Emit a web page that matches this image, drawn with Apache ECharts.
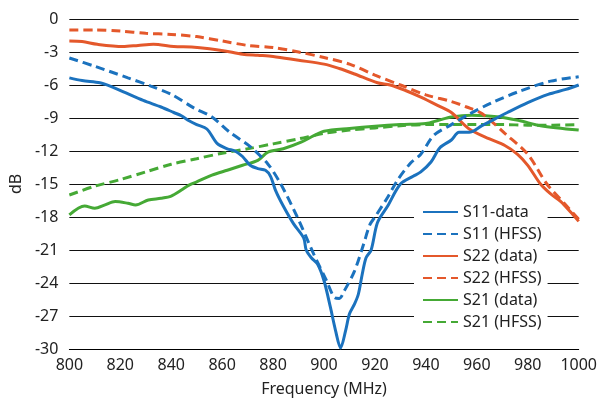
<!DOCTYPE html>
<html><head><meta charset="utf-8">
<script src="https://cdn.jsdelivr.net/npm/echarts@6/dist/echarts.min.js"></script>
<style>html,body{margin:0;padding:0;background:#fff}#c{width:600px;height:402px}</style>
</head><body><div id="c"></div>
<script>
// X axis ticks 800..1000 step 20, Y ticks -30..0 step 3
const xTicks = [800, 820, 840, 860, 880, 900, 920, 940, 960, 980, 1000];
const yTicks = [-30, -27, -24, -21, -18, -15, -12, -9, -6, -3, 0];
const seriesNames = ['S11-data', 'S11 (HFSS)', 'S22 (data)', 'S22 (HFSS)', 'S21 (data)', 'S21 (HFSS)'];

const s11Data = [[800,-5.35],[805,-5.6],[812,-5.8],[816,-6.1],[822,-6.7],[829,-7.4],[836,-8.0],[841,-8.5],[844,-8.8],[847,-9.25],[850,-9.6],[854,-10.0],[858,-11.3],[862,-11.8],[865,-12.0],[868,-12.5],[871,-13.3],[874,-13.6],[877,-13.75],[879,-14.3],[881,-15.6],[884,-17.0],[888,-18.6],[892,-19.9],[893,-21.0],[895,-21.7],[897.5,-22.3],[900,-23.8],[902.5,-26.2],[904.5,-28.3],[906.5,-29.9],[908.5,-28.3],[910,-26.8],[912,-25.9],[913.5,-25.0],[915,-23.2],[916.5,-21.7],[918.5,-21.0],[921,-18.5],[925,-17.0],[930,-15.0],[935,-14.3],[938,-13.9],[942,-13.0],[945.5,-11.7],[950,-11.0],[953,-10.3],[957,-10.3],[962,-9.7],[967,-9.1],[972,-8.5],[980,-7.6],[988,-6.85],[995,-6.4],[1000,-6.0]];
const s11Hfss = [[800,-3.55],[810,-4.3],[823,-5.35],[832,-6.1],[840,-6.85],[849,-8.1],[856,-8.9],[863,-10.3],[871,-11.6],[878,-13.2],[883,-15.0],[889.5,-18.0],[896,-21.4],[901,-23.8],[904,-25.3],[906,-25.4],[908,-24.7],[912,-22.9],[915.5,-20.5],[918,-18.7],[920,-18.0],[925,-16.2],[929,-14.6],[934,-13.1],[938,-12.3],[943,-10.6],[950,-9.6],[957,-8.65],[966,-7.6],[977,-6.55],[989,-5.65],[1000,-5.25]];
const s22Data = [[800,-2.0],[805,-2.05],[811,-2.3],[821,-2.5],[827,-2.4],[833,-2.3],[841,-2.5],[848,-2.55],[855,-2.7],[861,-2.9],[868,-3.2],[874,-3.3],[880,-3.4],[890,-3.75],[900,-4.1],[906,-4.5],[912,-5.0],[921,-5.8],[926,-6.0],[932,-6.5],[938,-7.1],[945,-7.9],[950,-8.5],[957,-10.0],[965,-10.9],[971,-11.5],[976,-12.3],[980,-13.3],[985,-15.0],[989,-15.9],[993,-16.6],[997,-17.6],[1000,-18.4]];
const s22Hfss = [[800,-1.0],[810,-1.0],[820,-1.1],[830,-1.3],[840,-1.4],[850,-1.6],[860,-2.0],[870,-2.4],[880,-2.6],[890,-3.0],[900,-3.5],[910,-4.1],[920,-5.1],[930,-6.0],[940,-6.9],[950,-7.5],[956,-8.0],[962,-8.6],[971,-10.4],[980,-12.3],[987.5,-15.0],[994.5,-16.8],[1000,-18.2]];
const s21Data = [[800,-17.8],[806,-17.0],[810,-17.2],[814,-16.9],[818,-16.6],[823,-16.75],[826,-16.9],[831,-16.45],[836,-16.3],[840,-16.1],[844,-15.55],[847,-15.1],[850,-14.8],[856,-14.2],[862,-13.75],[868,-13.3],[874,-12.85],[878,-12.1],[884,-11.8],[891,-11.2],[896,-10.6],[900,-10.2],[910,-9.95],[920,-9.75],[930,-9.6],[940,-9.5],[945,-9.2],[950,-8.9],[958,-8.75],[969,-8.9],[977,-9.25],[985,-9.7],[1000,-10.1]];
const s21Hfss = [[800,-16.0],[810,-15.2],[820,-14.6],[830,-13.9],[840,-13.2],[850,-12.7],[860,-12.2],[870,-11.8],[880,-11.35],[890,-10.9],[900,-10.4],[910,-10.1],[920,-9.9],[930,-9.7],[940,-9.6],[950,-9.6],[960,-9.6],[970,-9.6],[980,-9.65],[990,-9.65],[1000,-9.6]];

const seriesData = [s11Data, s11Hfss, s22Data, s22Hfss, s21Data, s21Hfss];
const colors = ['#1B72BE', '#1B72BE', '#E4582B', '#E4582B', '#45A935', '#45A935'];
const FONT = 'Noto Sans';

const chart = echarts.init(document.getElementById('c'), null, {renderer: 'canvas'});
chart.setOption({
  animation: false,
  backgroundColor: '#fff',
  grid: {left: 68, right: 21, top: 19, bottom: 49},
  legend: {
    orient: 'vertical', left: 414, top: 202,
    backgroundColor: '#fff',
    padding: [2, 6, 6, 8],
    itemWidth: 35, itemHeight: 16, itemGap: 6,
    itemStyle: {opacity: 0, color: 'transparent', borderWidth: 0},
    data: seriesNames,
    textStyle: {fontFamily: FONT, fontSize: 16, lineHeight: 16, color: '#222'}
  },
  xAxis: {
    type: 'value', min: xTicks[0], max: xTicks[xTicks.length-1], interval: 20,
    name: 'Frequency (MHz)', nameLocation: 'middle', nameGap: 32,
    nameTextStyle: {fontFamily: FONT, fontSize: 16, color: '#222'},
    axisLine: {show: true, onZero: false, lineStyle: {color: '#000', width: 1}},
    axisTick: {show: false},
    splitLine: {show: false},
    axisLabel: {fontFamily: FONT, fontSize: 16, color: '#222', margin: 8, formatter: v => String(v)}
  },
  yAxis: {
    type: 'value', min: yTicks[0], max: yTicks[yTicks.length-1], interval: 3,
    name: 'dB', nameLocation: 'middle', nameGap: 44, nameRotate: 90,
    nameTextStyle: {fontFamily: FONT, fontSize: 16, color: '#222'},
    axisLine: {show: false}, axisTick: {show: false},
    splitLine: {show: true, lineStyle: {color: '#111', width: 1}},
    axisLabel: {fontFamily: FONT, fontSize: 16, color: '#222', margin: 11, formatter: v => String(v)}
  },
  series: seriesNames.map((n, i) => ({
    name: n, type: 'line', data: seriesData[i], symbol: 'none', smooth: 0.3,
    z: 10 - i,
    lineStyle: {color: colors[i], width: 3, type: i % 2 === 1 ? [9, 5] : 'solid', cap: 'butt'},
    itemStyle: {color: colors[i]}
  }))
});
</script></body></html>
